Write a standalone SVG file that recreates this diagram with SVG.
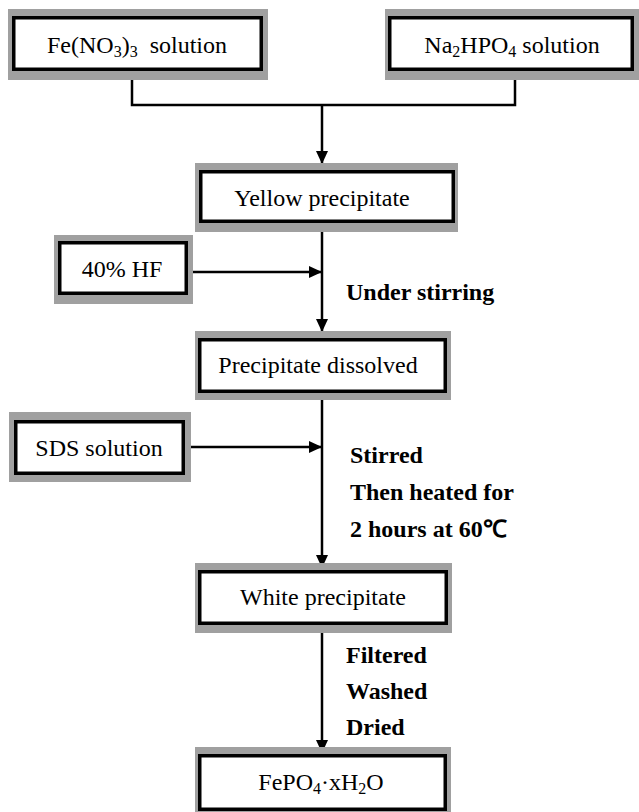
<svg xmlns="http://www.w3.org/2000/svg" width="639" height="812" viewBox="0 0 639 812">
<style>
.sh{fill:#a0a0a0;stroke:none}
.bx{fill:#fff;stroke:#000;stroke-width:3.5}
.t{font-family:"Liberation Serif","Times New Roman",serif;font-size:24px;fill:#000;text-anchor:middle}
.b{font-family:"Liberation Serif","Times New Roman",serif;font-size:24px;font-weight:bold;fill:#000}
.c{fill:none;stroke:#000;stroke-width:2.5}
</style>
<defs>
<marker id="ah" markerWidth="13" markerHeight="12" refX="13" refY="6" orient="auto" markerUnits="userSpaceOnUse">
<polygon points="0,0 13,6 0,12" fill="#000"/>
</marker>
</defs>
<rect width="639" height="812" fill="#fff"/>
<g id="connectors">
<polyline class="c" points="132,71 132,105 515,105 515,71"/>
<line class="c" x1="322" y1="105" x2="322" y2="164" marker-end="url(#ah)"/>
<line class="c" x1="322" y1="223" x2="322" y2="332" marker-end="url(#ah)"/>
<line class="c" x1="188" y1="272" x2="322" y2="272" marker-end="url(#ah)"/>
<line class="c" x1="322" y1="393" x2="322" y2="568" marker-end="url(#ah)"/>
<line class="c" x1="185" y1="447" x2="322" y2="447" marker-end="url(#ah)"/>
<line class="c" x1="322" y1="625" x2="322" y2="753" marker-end="url(#ah)"/>
</g>
<g id="node-fe">
<rect class="sh" x="8" y="9" width="260" height="71"/>
<rect class="bx" x="13.75" y="17.75" width="247.5" height="51.5"/>
<text class="t" x="137" y="53">Fe(NO<tspan font-size="16" dy="4">3</tspan><tspan dy="-4">)</tspan><tspan font-size="16" dy="4">3</tspan><tspan dy="-4" xml:space="preserve">  solution</tspan></text>
</g>
<g id="node-na">
<rect class="sh" x="385" y="9" width="254" height="71"/>
<rect class="bx" x="389.75" y="17.75" width="242.5" height="51.5"/>
<text class="t" x="512" y="53">Na<tspan font-size="16" dy="4">2</tspan><tspan dy="-4">HPO</tspan><tspan font-size="16" dy="4">4</tspan><tspan dy="-4"> solution</tspan></text>
</g>
<g id="node-yellow">
<rect class="sh" x="195" y="163" width="263" height="69"/>
<rect class="bx" x="200.75" y="171.75" width="252.5" height="49.5"/>
<text class="t" x="322" y="206">Yellow precipitate</text>
</g>
<g id="node-hf">
<rect class="sh" x="54" y="235" width="139" height="69"/>
<rect class="bx" x="59.75" y="242.75" width="126.5" height="50.5"/>
<text class="t" x="122" y="277">40% HF</text>
</g>
<g id="label-stirring">
<text class="b" x="346" y="300">Under stirring</text>
</g>
<g id="node-dissolved">
<rect class="sh" x="195" y="331" width="256" height="69"/>
<rect class="bx" x="199.75" y="339.75" width="245.5" height="51.5"/>
<text class="t" x="318" y="373">Precipitate dissolved</text>
</g>
<g id="node-sds">
<rect class="sh" x="9" y="412" width="182" height="70"/>
<rect class="bx" x="15.75" y="421.75" width="167.5" height="51.5"/>
<text class="t" x="99" y="456">SDS solution</text>
</g>
<g id="label-heat">
<text class="b" x="350" y="463">Stirred</text>
<text class="b" x="350" y="500">Then heated for</text>
<text class="b" x="350" y="537">2 hours at 60℃</text>
</g>
<g id="node-white">
<rect class="sh" x="195" y="563" width="257" height="70"/>
<rect class="bx" x="199.75" y="571.75" width="246.5" height="51.5"/>
<text class="t" x="323" y="605">White precipitate</text>
</g>
<g id="label-filter">
<text class="b" x="346" y="663">Filtered</text>
<text class="b" x="346" y="699">Washed</text>
<text class="b" x="346" y="735">Dried</text>
</g>
<g id="node-fepo4">
<rect class="sh" x="195" y="747" width="256" height="65"/>
<rect class="bx" x="199.75" y="755.75" width="245.5" height="53.5"/>
<text class="t" x="321" y="790">FePO<tspan font-size="16" dy="4">4</tspan><tspan dy="-4">·xH</tspan><tspan font-size="16" dy="4">2</tspan><tspan dy="-4">O</tspan></text>
</g>
</svg>
